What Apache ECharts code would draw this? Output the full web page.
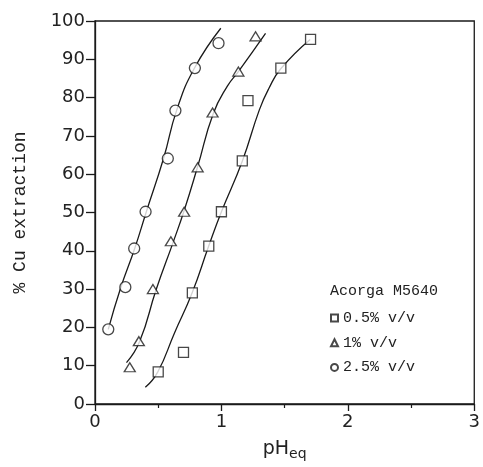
<!DOCTYPE html>
<html>
<head>
<meta charset="utf-8">
<script src="https://cdn.jsdelivr.net/npm/echarts@6/dist/echarts.min.js"></script>
<style>html,body{margin:0;padding:0;background:#fff;}#c{width:483px;height:467px;}</style>
</head>
<body>
<div id="c"></div>
<script>
// Measured points
const sq05X = [0.50, 0.70, 0.77, 0.90, 1.00, 1.165, 1.21, 1.47, 1.705];
const sq05Y = [8.4, 13.5, 29.0, 41.2, 50.2, 63.5, 79.2, 87.7, 95.2];
const tri1X = [0.275, 0.347, 0.458, 0.60, 0.705, 0.812, 0.93, 1.134, 1.27];
const tri1Y = [9.6, 16.4, 30.0, 42.5, 50.2, 61.8, 76.1, 86.8, 96.0];
const circ25X = [0.105, 0.24, 0.31, 0.40, 0.576, 0.636, 0.79, 0.977];
const circ25Y = [19.5, 30.5, 40.6, 50.2, 64.1, 76.6, 87.7, 94.2];
// Fitted curves
const fit05X = [0.398, 0.497, 0.628, 0.767, 0.898, 1.0, 1.165, 1.30, 1.374, 1.471, 1.702];
const fit05Y = [4.35, 8.4, 18.5, 28.9, 41.1, 50.2, 63.4, 76.8, 82.3, 87.6, 95.2];
const fit1X = [0.249, 0.353, 0.484, 0.62, 0.706, 0.812, 0.935, 1.047, 1.134, 1.349];
const fit1Y = [10.8, 16.3, 29.9, 42.4, 50.6, 62.0, 75.8, 83.0, 86.8, 96.8];
const fit25X = [0.105, 0.204, 0.314, 0.406, 0.542, 0.647, 0.785, 0.995];
const fit25Y = [19.5, 30.4, 40.6, 50.2, 64.1, 76.8, 87.6, 98.1];
// Labels
const seriesNames = ['0.5% v/v', '1% v/v', '2.5% v/v'];
const legendTitle = 'Acorga M5640';
const yAxisTitle = '% Cu extraction';

const zip = (a, b) => a.map((v, i) => [v, b[i]]);
const ink = '#1a1a1a';
const markerStyle = { color: '#fff', borderColor: ink, borderWidth: 1.3 };
const fitLine = (x, y) => ({
  type: 'line', data: zip(x, y), smooth: true,
  showSymbol: false, symbol: 'none', silent: true,
  lineStyle: { color: ink, width: 1.3 }, z: 1
});

const chart = echarts.init(document.getElementById('c'), null, { renderer: 'canvas' });
chart.setOption({
  animation: false,
  backgroundColor: '#fff',
  grid: { left: 95, right: 6, top: 21, bottom: 63, show: true, borderColor: ink, borderWidth: 1.3 },
  xAxis: {
    type: 'value', min: 0, max: 3, interval: 1,
    axisLine: { onZero: false, lineStyle: { color: ink, width: 1.3 } },
    axisTick: { inside: false, length: 7, lineStyle: { color: ink, width: 1.3 } },
    minorTick: { show: true, splitNumber: 2, length: 4, lineStyle: { color: ink, width: 1.2 } },
    splitLine: { show: false },
    axisLabel: { margin: 9, fontSize: 18, color: '#222', fontFamily: 'DejaVu Sans' },
    name: 'pH{sub|eq}', nameLocation: 'middle', nameGap: 34,
    nameTextStyle: {
      fontSize: 19, color: '#222', fontFamily: 'DejaVu Sans',
      rich: { sub: { fontSize: 14, color: '#222', fontFamily: 'DejaVu Sans', verticalAlign: 'bottom', padding: [9, 0, 0, 0] } }
    }
  },
  yAxis: {
    type: 'value', min: 0, max: 100, interval: 10,
    axisLine: { onZero: false, lineStyle: { color: ink, width: 1.3 } },
    axisTick: { inside: false, length: 9, lineStyle: { color: ink, width: 1.3 } },
    splitLine: { show: false },
    axisLabel: { margin: 10, fontSize: 18, color: '#222', fontFamily: 'DejaVu Sans' },
    name: yAxisTitle, nameLocation: 'middle', nameGap: 66,
    nameTextStyle: { fontSize: 18, color: '#222', fontFamily: 'Liberation Mono' }
  },
  legend: {
    data: seriesNames, orient: 'vertical', left: 330, top: 310, padding: 0,
    itemWidth: 7, itemHeight: 7, itemGap: 8.7,
    textStyle: { fontSize: 15, lineHeight: 16, color: '#222', fontFamily: 'Liberation Mono' }
  },
  graphic: [{
    type: 'text', left: 330, top: 284,
    style: { text: legendTitle, fontSize: 15, fontFamily: 'Liberation Mono', fill: '#222' }
  }],
  series: [
    fitLine(fit05X, fit05Y),
    fitLine(fit1X, fit1Y),
    fitLine(fit25X, fit25Y),
    { name: seriesNames[0], type: 'scatter', data: zip(sq05X, sq05Y), symbol: 'rect', symbolSize: 10, itemStyle: markerStyle, z: 3 },
    { name: seriesNames[1], type: 'scatter', data: zip(tri1X, tri1Y), symbol: 'triangle', symbolSize: [11, 9], itemStyle: markerStyle, z: 3 },
    { name: seriesNames[2], type: 'scatter', data: zip(circ25X, circ25Y), symbol: 'circle', symbolSize: 11, itemStyle: markerStyle, z: 3 }
  ]
});
</script>
</body>
</html>
